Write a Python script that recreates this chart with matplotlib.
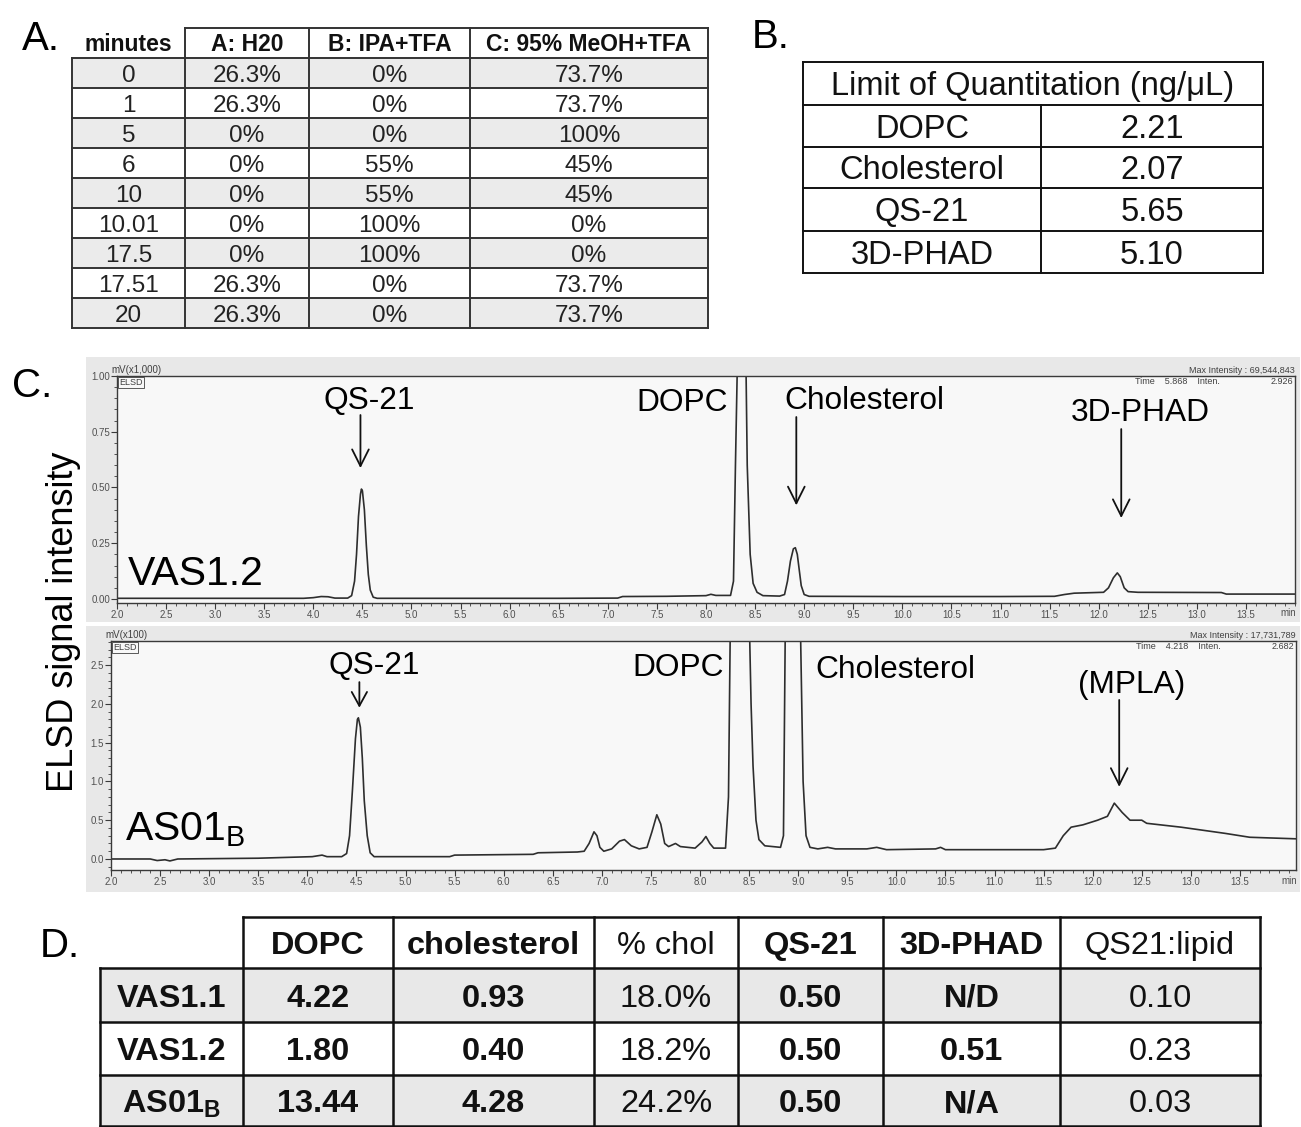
import matplotlib.pyplot as plt
from matplotlib.patches import Rectangle
from matplotlib.ticker import MultipleLocator, FormatStrFormatter

plt.rcParams['font.family'] = ['Liberation Sans', 'DejaVu Sans']
plt.rcParams['mathtext.fontset'] = 'custom'
plt.rcParams['mathtext.rm'] = 'Liberation Sans'
plt.rcParams['mathtext.bf'] = 'Liberation Sans:bold'

W, H = 1301, 1127
DPI = 100
PT = 72 / DPI          # points per pixel

# A. HPLC gradient
gradient_cols = ['minutes', 'A: H20', 'B: IPA+TFA', 'C: 95% MeOH+TFA']
gradient_minutes = ['0', '1', '5', '6', '10', '10.01', '17.5', '17.51', '20']
gradient_a = ['26.3%', '26.3%', '0%', '0%', '0%', '0%', '0%', '26.3%', '26.3%']
gradient_b = ['0%', '0%', '0%', '55%', '55%', '100%', '100%', '0%', '0%']
gradient_c = ['73.7%', '73.7%', '100%', '45%', '45%', '0%', '0%', '73.7%', '73.7%']

# B. limits of quantitation
loq_header = 'Limit of Quantitation (ng/\u03bcL)'
loq_names = ['DOPC', 'Cholesterol', 'QS-21', '3D-PHAD']
loq_values = ['2.21', '2.07', '5.65', '5.10']

# C. ELSD traces (time in min, signal in mV x1000 / mV x100)
vas_time = [2.0, 3.0, 3.9, 4.0, 4.08, 4.15, 4.22, 4.35, 4.39, 4.42, 4.44, 4.46,
            4.48, 4.49, 4.50, 4.52, 4.54, 4.56, 4.58, 4.61, 4.65, 5.5, 6.5,
            7.1, 7.15, 7.6, 8.0, 8.05, 8.1, 8.25, 8.28, 8.30, 8.33, 8.40, 8.42,
            8.45, 8.48, 8.52, 8.58, 8.75, 8.80, 8.83, 8.86, 8.89, 8.91, 8.93,
            8.95, 8.97, 9.0, 9.05, 10.0, 11.0, 11.55, 11.65, 11.75, 12.05, 12.1,
            12.15, 12.19, 12.22, 12.26, 12.3, 12.4, 13.25, 13.3, 14.0]
vas_signal = [0.003, 0.003, 0.003, 0.006, 0.011, 0.010, 0.004, 0.004, 0.015, 0.08,
              0.20, 0.37, 0.47, 0.493, 0.485, 0.40, 0.24, 0.11, 0.04, 0.008,
              0.003, 0.003, 0.003, 0.004, 0.011, 0.012, 0.015, 0.021, 0.016,
              0.016, 0.08, 0.6, 1.3, 1.3, 0.6, 0.2, 0.07, 0.03, 0.015, 0.013,
              0.02, 0.08, 0.17, 0.225, 0.23, 0.2, 0.13, 0.06, 0.02, 0.012,
              0.011, 0.011, 0.012, 0.02, 0.026, 0.03, 0.05, 0.095, 0.117, 0.1,
              0.05, 0.033, 0.03, 0.029, 0.022, 0.022]

as01_time = [2.0, 2.4, 2.47, 2.55, 2.6, 2.68, 3.5, 4.05, 4.15, 4.2, 4.35, 4.4,
             4.43, 4.46, 4.49, 4.51, 4.52, 4.54, 4.56, 4.58, 4.61, 4.64, 4.68,
             5.45, 5.5, 6.3, 6.35, 6.75, 6.82, 6.87, 6.92, 6.95, 6.98, 7.02,
             7.1, 7.18, 7.23, 7.3, 7.38, 7.46, 7.51, 7.56, 7.6, 7.64, 7.68,
             7.75, 7.8, 7.95, 8.02, 8.06, 8.1, 8.14, 8.26, 8.29, 8.31, 8.50,
             8.52, 8.54, 8.57, 8.6, 8.66, 8.82, 8.85, 8.87, 9.02, 9.05, 9.08,
             9.12, 9.2, 9.3, 9.38, 9.7, 9.8, 9.9, 10.4, 10.45, 10.5, 11.5,
             11.62, 11.7, 11.78, 11.9, 12.05, 12.15, 12.22, 12.3, 12.38, 12.5,
             12.55, 12.9, 13.35, 13.6, 14.07]
as01_signal = [0.0, 0.0, -0.02, -0.01, -0.025, 0.0, 0.01, 0.03, 0.05, 0.03, 0.03,
               0.07, 0.3, 0.9, 1.55, 1.8, 1.82, 1.7, 1.3, 0.75, 0.3, 0.08, 0.03,
               0.03, 0.05, 0.06, 0.08, 0.09, 0.1, 0.2, 0.35, 0.3, 0.15, 0.1,
               0.13, 0.23, 0.25, 0.17, 0.13, 0.15, 0.35, 0.57, 0.45, 0.2, 0.16,
               0.2, 0.16, 0.14, 0.22, 0.29, 0.2, 0.14, 0.14, 0.8, 3.2, 3.2,
               2.0, 1.2, 0.5, 0.25, 0.17, 0.15, 0.3, 3.2, 3.2, 1.0, 0.3,
               0.15, 0.13, 0.15, 0.13, 0.13, 0.15, 0.12, 0.13, 0.15, 0.12, 0.12,
               0.14, 0.3, 0.41, 0.44, 0.5, 0.55, 0.72, 0.6, 0.5, 0.5,
               0.46, 0.41, 0.33, 0.28, 0.26]

# D. formulation composition
comp_cols = ['DOPC', 'cholesterol', '% chol', 'QS-21', '3D-PHAD', 'QS21:lipid']
comp_bold = [True, True, False, True, True, False]
comp_rows = ['VAS1.1', 'VAS1.2', r'AS01$_\mathbf{B}$']
comp_dopc = ['4.22', '1.80', '13.44']
comp_chol = ['0.93', '0.40', '4.28']
comp_pct = ['18.0%', '18.2%', '24.2%']
comp_qs21 = ['0.50', '0.50', '0.50']
comp_phad = ['N/D', '0.51', 'N/A']
comp_ratio = ['0.10', '0.23', '0.03']


def cell_text(ax, x0, x1, y0, y1, s, size, weight='normal', color='#111111'):
    """Centre a string in a table cell given in pixel units."""
    ax.text((x0 + x1) / 2, (y0 + y1) / 2 + 0.358 * size / PT, s,
            ha='center', va='baseline', fontsize=size, fontweight=weight,
            color=color)


def grid_lines(ax, hl, vl, color, lw):
    for y, x0, x1 in hl:
        ax.plot([x0, x1], [y, y], color=color, lw=lw, solid_capstyle='projecting')
    for x, y0, y1 in vl:
        ax.plot([x, x], [y0, y1], color=color, lw=lw, solid_capstyle='projecting')


fig = plt.figure(figsize=(W / DPI, H / DPI), dpi=DPI)
canvas = fig.add_axes([0, 0, 1, 1])
canvas.set_xlim(0, W)
canvas.set_ylim(H, 0)
canvas.axis('off')

letter_size = 29
canvas.text(22, 50, 'A.', fontsize=letter_size, va='baseline')
canvas.text(752, 48, 'B.', fontsize=letter_size, va='baseline')
canvas.text(12, 397, 'C.', fontsize=letter_size, va='baseline')
canvas.text(40, 957, 'D.', fontsize=letter_size, va='baseline')

# ---- table A ----
xa = [72, 185, 309, 470, 708]
ya = [28, 58] + [58 + 30 * (i + 1) for i in range(len(gradient_minutes))]
for i in range(len(gradient_minutes)):
    if i % 2 == 0:
        canvas.add_patch(Rectangle((xa[0], ya[i + 1]), xa[-1] - xa[0], 30,
                                   color='#ebebeb', lw=0))
hl = [(ya[0], xa[1], xa[-1])] + [(y, xa[0], xa[-1]) for y in ya[1:]]
vl = [(xa[0], ya[1], ya[-1])] + [(x, ya[0], ya[-1]) for x in xa[1:]]
grid_lines(canvas, hl, vl, '#333333', 1.4)
for j, name in enumerate(gradient_cols):
    cell_text(canvas, xa[j], xa[j + 1], ya[0], ya[1], name, 16.5, 'bold')
for i, row in enumerate(zip(gradient_minutes, gradient_a, gradient_b, gradient_c)):
    for j, s in enumerate(row):
        cell_text(canvas, xa[j], xa[j + 1], ya[i + 1], ya[i + 2], s, 17.5,
                  color='#222222')

# ---- table B ----
xb = [803, 1041, 1263]
yb = [62, 105, 147, 188, 231, 273]
hl = [(y, xb[0], xb[-1]) for y in yb]
vl = [(xb[0], yb[0], yb[-1]), (xb[1], yb[1], yb[-1]), (xb[2], yb[0], yb[-1])]
grid_lines(canvas, hl, vl, '#111111', 1.4)
cell_text(canvas, xb[0], xb[-1], yb[0], yb[1], loq_header, 23.5)
for i, (n, v) in enumerate(zip(loq_names, loq_values)):
    cell_text(canvas, xb[0], xb[1], yb[i + 1], yb[i + 2], n, 23.5)
    cell_text(canvas, xb[1], xb[2], yb[i + 1], yb[i + 2], v, 23.5)

# ---- table D ----
xd = [100, 243, 393, 594, 738, 883, 1060, 1260]
yd = [917, 968, 1022, 1075, 1126]
for i in (0, 2):
    canvas.add_patch(Rectangle((xd[0], yd[i + 1]), xd[-1] - xd[0],
                               yd[i + 2] - yd[i + 1], color='#e8e8e8', lw=0))
hl = [(yd[0], xd[1], xd[-1])] + [(y, xd[0], xd[-1]) for y in yd[1:]]
vl = [(xd[0], yd[1], yd[-1])] + [(x, yd[0], yd[-1]) for x in xd[1:]]
grid_lines(canvas, hl, vl, '#111111', 1.8)
for j, (name, b) in enumerate(zip(comp_cols, comp_bold)):
    cell_text(canvas, xd[j + 1], xd[j + 2], yd[0], yd[1], name, 23.4,
              'bold' if b else 'normal')
for i, row in enumerate(zip(comp_dopc, comp_chol, comp_pct, comp_qs21,
                            comp_phad, comp_ratio)):
    cell_text(canvas, xd[0], xd[1], yd[i + 1], yd[i + 2], comp_rows[i], 23.4, 'bold')
    for j, (s, b) in enumerate(zip(row, comp_bold)):
        cell_text(canvas, xd[j + 1], xd[j + 2], yd[i + 1], yd[i + 2], s, 23.4,
                  'bold' if b else 'normal')

# ---- C. chromatograms ----
panel_grey = '#e8e8e8'
canvas.add_patch(Rectangle((86, 357), 1214, 265, color=panel_grey, lw=0))
canvas.add_patch(Rectangle((86, 626), 1214, 266, color=panel_grey, lw=0))
canvas.text(64, 622, 'ELSD signal intensity', fontsize=26, rotation=90,
            ha='center', va='center')


def px_axes(l, t, r, b):
    return fig.add_axes([l / W, 1 - b / H, (r - l) / W, (b - t) / H])


def style_chrom(ax, xlim, ylim, ymajor, yminor, yfmt, unit, max_int, t_val, i_val):
    ax.set_facecolor('#f8f8f8')
    for s in ax.spines.values():
        s.set_color('#3a3a3a')
        s.set_linewidth(1.0)
    # labelled ticks every 0.5 min, the last slot is left for the unit
    xt = [xlim[0] + 0.5 * k for k in range(int((xlim[1] - xlim[0] - 0.3) / 0.5) + 1)]
    ax.set_xticks(xt)
    ax.xaxis.set_minor_locator(MultipleLocator(0.1))
    ax.xaxis.set_major_formatter(FormatStrFormatter('%.1f'))
    ax.yaxis.set_major_locator(MultipleLocator(ymajor))
    ax.yaxis.set_minor_locator(MultipleLocator(yminor))
    ax.yaxis.set_major_formatter(FormatStrFormatter(yfmt))
    ax.set_xlim(*xlim)
    ax.set_ylim(*ylim)
    ax.tick_params(which='both', direction='out', color='#3a3a3a',
                   labelcolor='#505050', labelsize=7, pad=1)
    ax.tick_params(which='major', length=4, width=0.8)
    ax.tick_params(which='minor', length=2.5, width=0.6)
    ax.annotate('min', xy=(1, 0), xycoords='axes fraction',
                xytext=(-7 * PT, -10.5 * PT), textcoords='offset points',
                ha='center', va='center', fontsize=7, color='#505050')
    ax.annotate(unit, xy=(0, 1), xycoords='axes fraction',
                xytext=(-6 * PT, 1 * PT), textcoords='offset points',
                ha='left', va='bottom', fontsize=7, color='#404040')
    ax.text(0.002, 0.992, 'ELSD', transform=ax.transAxes, ha='left', va='top',
            fontsize=6.5, color='#404040',
            bbox=dict(boxstyle='square,pad=0.12', fc='none', ec='#404040', lw=0.6))
    ax.annotate('Max Intensity : ' + max_int, xy=(1, 1), xycoords='axes fraction',
                xytext=(0, 1 * PT), textcoords='offset points',
                ha='right', va='bottom', fontsize=6.5, color='#404040')
    ax.annotate('Time    ' + t_val + '    Inten.', xy=(1, 1), xycoords='axes fraction',
                xytext=(-160 * PT, -1 * PT), textcoords='offset points',
                ha='left', va='top', fontsize=6.5, color='#404040')
    ax.annotate(i_val, xy=(1, 1), xycoords='axes fraction',
                xytext=(-2 * PT, -1 * PT), textcoords='offset points',
                ha='right', va='top', fontsize=6.5, color='#404040')


def peak_arrow(ax, x, y0, y1, hl=1.2, hw=0.6):
    ax.annotate('', xy=(x, y1), xytext=(x, y0),
                arrowprops=dict(arrowstyle='->,head_length=%g,head_width=%g' % (hl, hw),
                                color='#111111', lw=1.3, shrinkA=0, shrinkB=0))


trace_color = '#2e2e2e'
label_size = 22.8

# top: VAS1.2
ax1 = px_axes(117, 376, 1295, 603)
ax1.plot(vas_time, vas_signal, color=trace_color, lw=1.2)
style_chrom(ax1, (2.0, 14.0), (-0.018, 1.0), 0.25, 0.05, '%.2f',
            'mV(x1,000)', '69,544,843', '5.868', '2.926')
ax1.text(4.57, 0.852, 'QS-21', fontsize=label_size, ha='center', va='baseline')
ax1.text(8.22, 0.843, 'DOPC', fontsize=label_size, ha='right', va='baseline')
ax1.text(8.80, 0.852, 'Cholesterol', fontsize=label_size, ha='left', va='baseline')
ax1.text(12.42, 0.798, '3D-PHAD', fontsize=label_size, ha='center', va='baseline')
ax1.text(2.11, 0.063, 'VAS1.2', fontsize=29.5, ha='left', va='baseline')
peak_arrow(ax1, 4.48, 0.825, 0.587)
peak_arrow(ax1, 8.92, 0.816, 0.42)
peak_arrow(ax1, 12.23, 0.762, 0.363)

# bottom: AS01B
ax2 = px_axes(111, 641, 1296, 870)
ax2.plot(as01_time, as01_signal, color=trace_color, lw=1.2)
style_chrom(ax2, (2.0, 2.0 + 1185 / 98.17), (-0.142, 2.81), 0.5, 0.1, '%.1f',
            'mV(x100)', '17,731,789', '4.218', '2.682')
ax2.text(4.68, 2.384, 'QS-21', fontsize=label_size, ha='center', va='baseline')
ax2.text(8.24, 2.36, 'DOPC', fontsize=label_size, ha='right', va='baseline')
ax2.text(9.18, 2.33, 'Cholesterol', fontsize=label_size, ha='left', va='baseline')
ax2.text(12.40, 2.14, '(MPLA)', fontsize=label_size, ha='center', va='baseline')
ax2.text(2.14, 0.245, r'AS01$_\mathrm{B}$', fontsize=29.5, ha='left', va='baseline')
peak_arrow(ax2, 4.53, 2.28, 1.95, hl=1.0, hw=0.55)
peak_arrow(ax2, 12.27, 2.05, 0.93)

fig.savefig('out.png', dpi=DPI)
